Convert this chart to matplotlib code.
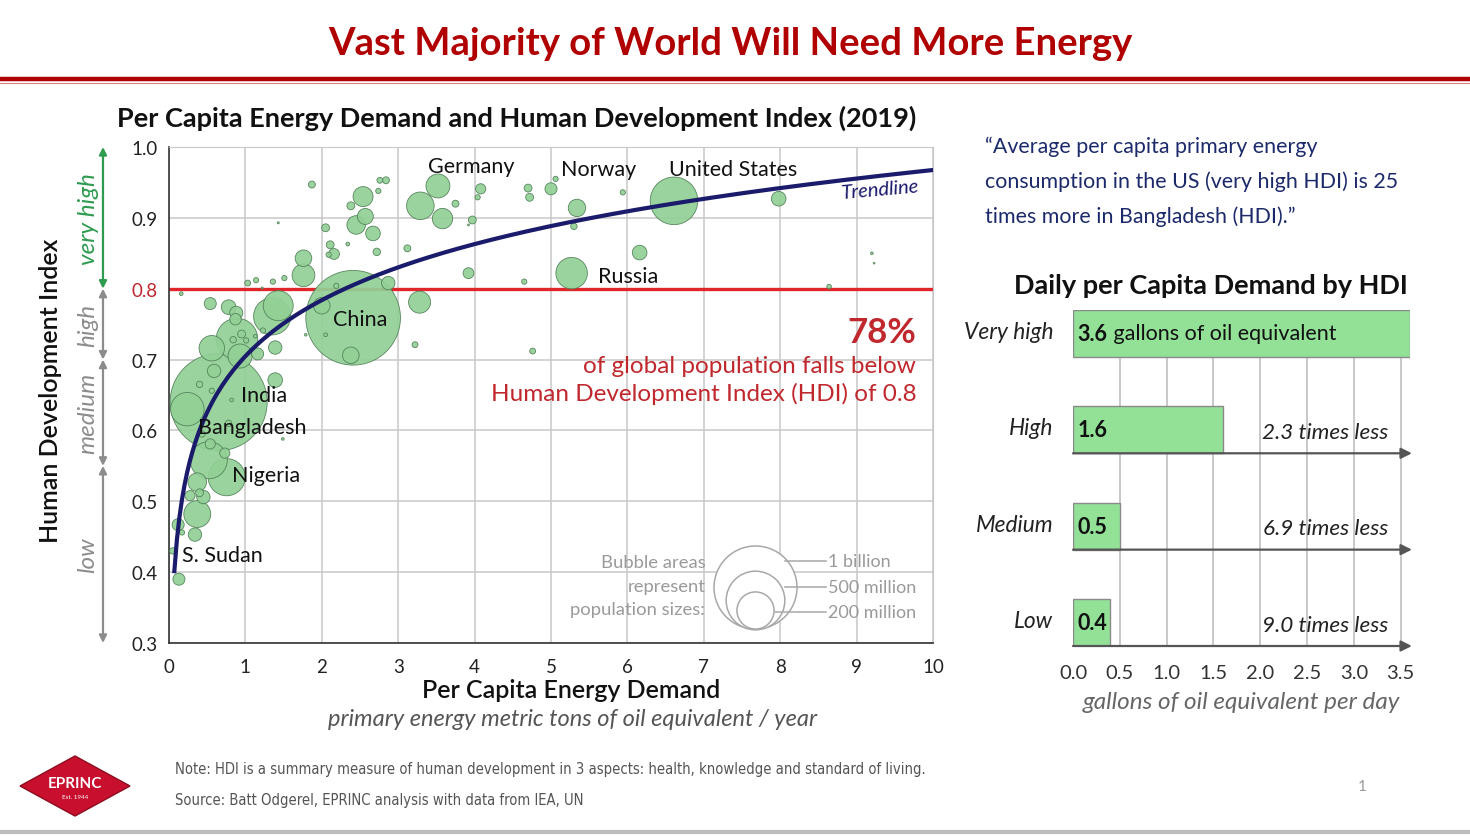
import numpy as np
import matplotlib
matplotlib.use("Agg")
import matplotlib.pyplot as plt
from matplotlib import transforms, font_manager
from matplotlib.font_manager import FontProperties
from matplotlib.patches import Polygon

plt.rcParams['font.family'] = ['Lato', 'DejaVu Sans']

# ---- scatter data: energy (toe / person / yr), HDI, population (millions)
energy = [1.87, 2.76, 2.84, 2.54, 2.74, 2.38, 2.57, 2.45, 2.67, 2.05,
          2.72, 2.11, 2.16, 2.09, 2.34, 1.43, 3.12, 3.52, 3.29, 3.58,
          3.75, 1.76, 1.76, 1.03, 1.14, 1.36, 1.51, 1.22, 0.16, 0.54,
          0.78, 0.88, 0.87, 1.43, 1.35, 2.00, 2.87, 3.28, 3.22, 2.41,
          2.38, 1.39, 0.56, 0.93, 0.89, 0.95, 0.84, 1.01, 1.16, 0.59,
          0.40, 1.39, 0.56, 0.65, 0.24, 0.82, 0.78, 1.49, 0.54, 0.52,
          0.73, 0.755, 0.37, 0.275, 0.40, 0.45, 0.37, 0.12, 0.17, 0.34,
          0.05, 0.13, 4.08, 4.04, 3.97, 3.92, 4.70, 4.72, 5.00, 5.06,
          5.34, 5.30, 4.65, 5.27, 5.94, 6.16, 6.61, 7.98, 8.64, 9.20,
          9.23, 4.76, 2.19, 2.05, 1.79, 1.23, 1.13, 0.43, 6.24, 3.92]
hdi = [0.947, 0.953, 0.953, 0.930, 0.938, 0.917, 0.902, 0.890, 0.878, 0.886,
       0.852, 0.862, 0.849, 0.848, 0.863, 0.893, 0.857, 0.945, 0.917, 0.899,
       0.920, 0.843, 0.819, 0.808, 0.812, 0.810, 0.815, 0.801, 0.793, 0.779,
       0.774, 0.766, 0.757, 0.776, 0.761, 0.776, 0.808, 0.781, 0.721, 0.759,
       0.706, 0.717, 0.716, 0.705, 0.729, 0.736, 0.728, 0.727, 0.708, 0.684,
       0.665, 0.671, 0.656, 0.640, 0.630, 0.643, 0.610, 0.588, 0.581, 0.558,
       0.568, 0.534, 0.527, 0.508, 0.512, 0.506, 0.482, 0.467, 0.456, 0.453,
       0.430, 0.390, 0.941, 0.929, 0.897, 0.822, 0.942, 0.929, 0.941, 0.955,
       0.914, 0.888, 0.810, 0.822, 0.936, 0.851, 0.924, 0.927, 0.803, 0.850,
       0.836, 0.712, 0.804, 0.735, 0.735, 0.741, 0.733, 0.595, 0.913, 0.890]
population = [7, 5, 7, 58, 4, 9, 37, 50, 31, 9,
              8, 9, 17, 4, 2, 0.6, 7, 83, 110, 60,
              7, 40, 75, 5, 4, 4, 4, 0.6, 2, 21,
              31, 25, 19, 130, 200, 40, 26, 70, 5, 1300,
              40, 26, 94, 84, 250, 9, 6, 4, 21, 26,
              6, 31, 4, 1366, 163, 2, 6, 1, 15, 200,
              15, 200, 50, 15, 9, 26, 105, 21, 4, 26,
              6, 21, 15, 4, 9, 17, 9, 9, 21, 4,
              44, 6, 4, 144, 4, 31, 329, 31, 3, 1,
              0.4, 5, 4, 2, 1, 4, 2, 6, 0.5, 0.5]

country_labels = ['Germany', 'Norway', 'United States', 'Russia', 'China',
                  'India', 'Bangladesh', 'Nigeria', 'S. Sudan']
label_x = [3.95, 5.62, 7.38, 5.62, 2.50, 0.94, 0.38, 0.82, 0.17]
label_y = [0.973, 0.969, 0.969, 0.818, 0.757, 0.650, 0.605, 0.537, 0.424]
label_ha = ['center', 'center', 'center', 'left', 'center', 'left', 'left', 'left', 'left']

# log trendline: hdi = a + b*ln(energy)
trend_a, trend_b = 0.7048, 0.1141

legend_pops = [1000, 500, 200]
legend_names = ['1 billion', '500 million', '200 million']

# ---- bar data
hdi_groups = ['Low', 'Medium', 'High', 'Very high']
daily_gallons = [0.4, 0.5, 1.6, 3.6]
times_less = ['9.0', '6.9', '2.3']

W, H = 1470, 837
DPI = 100
R_1B = 41.5   # pixel radius of a 1 billion bubble


def fx(px):
    return px / W


def fy(py):
    return 1 - py / H


def bubble_area(pop):
    # diameter in points grows with sqrt(pop)
    d_pt = 2 * R_1B * np.sqrt(np.asarray(pop) / 1000.0) * 72 / DPI
    return d_pt ** 2


fig = plt.figure(figsize=(W / DPI, H / DPI), dpi=DPI)
fig.patch.set_facecolor('white')

# ---- header
fig.text(fx(730), fy(44), 'Vast Majority of World Will Need More Energy', color='#B00000',
         fontsize=27.5, fontweight='bold', ha='center', va='center')
fig.add_artist(plt.Line2D([0, 1], [fy(80), fy(80)], color='#B00000', lw=3.2))
fig.add_artist(plt.Line2D([0, 1], [fy(83.5), fy(83.5)], color='#D98080', lw=0.8))

# ---- scatter
ax = fig.add_axes([fx(169), fy(644), fx(933) - fx(169), fy(148) - fy(644)])
ax.set_xlim(0, 10)
ax.set_ylim(0.3, 1.0)
ax.set_xticks(range(0, 11))
ax.set_yticks(np.round(np.arange(0.3, 1.01, 0.1), 1))
ax.set_yticklabels(['%.1f' % v for v in np.arange(0.3, 1.01, 0.1)])
ax.tick_params(length=0, labelsize=13.5, colors='#222222')
ax.tick_params(axis='y', pad=8)
ax.tick_params(axis='x', pad=11)
ax.get_yticklabels()[5].set_color('#C0282D')
ax.grid(True, color='#C8C8C8', lw=1.1, zorder=0)
ax.set_axisbelow(True)
for side in ['top', 'right']:
    ax.spines[side].set_color('#C8C8C8')
for side in ['left', 'bottom']:
    ax.spines[side].set_color('#333333')
    ax.spines[side].set_linewidth(1.2)

ax.axhline(0.8, color='#E0262B', lw=2.4, zorder=2)

order = np.argsort(-np.asarray(population))
ex = np.asarray(energy)[order]
hy = np.asarray(hdi)[order]
pp = np.asarray(population)[order]
ax.scatter(ex, hy, s=bubble_area(pp), c='#92D096', edgecolors='#4E7E55',
           linewidths=0.6, alpha=0.92, zorder=3)

xt = np.linspace(0.07, 10, 300)
ax.plot(xt, trend_a + trend_b * np.log(xt), color='#1B1B6B', lw=3, zorder=4)
ax.text(9.31, 0.941, 'Trendline', color='#1B1B6B', fontsize=14.5, style='italic',
        ha='center', va='center', rotation=5, zorder=5)

for name, lx, ly, ha in zip(country_labels, label_x, label_y, label_ha):
    ax.text(lx, ly, name, fontsize=15.5, ha=ha, va='center', color='#111111', zorder=6)

ax.text(9.78, 0.739, '78%', color='#C0282D', fontsize=25, fontweight='bold',
        ha='right', va='center', zorder=6)
ax.text(9.78, 0.692, 'of global population falls below', color='#C0282D',
        fontsize=17.5, ha='right', va='center', zorder=6)
ax.text(9.78, 0.653, 'Human Development Index (HDI) of 0.8', color='#C0282D',
        fontsize=17.5, ha='right', va='center', zorder=6)

# bubble size legend (circles share a common bottom)
for pop in legend_pops:
    r_pt = R_1B * np.sqrt(pop / 1000.0) * 72 / DPI
    tr = transforms.offset_copy(ax.transData, fig=fig, x=0, y=r_pt, units='points')
    ax.scatter([7.67], [0.3198], s=bubble_area(pop), facecolors='white',
               edgecolors='#A8A8A8', linewidths=1.1, transform=tr, zorder=5)
lead_y = [0.416, 0.379, 0.344]
lead_x0 = [8.06, 8.06, 7.93]
for name, yy, x0 in zip(legend_names, lead_y, lead_x0):
    ax.plot([x0, 8.6], [yy, yy], color='#A8A8A8', lw=1.1, zorder=5)
    ax.text(8.62, yy, name, color='#9A9A9A', fontsize=13, ha='left', va='center', zorder=6)
for txt, yy in zip(['Bubble areas', 'represent', 'population sizes:'], [0.414, 0.380, 0.348]):
    ax.text(7.02, yy, txt, color='#9A9A9A', fontsize=13.3, ha='right', va='center', zorder=6)

# HDI band arrows on the left
band_lo = [0.8, 0.7, 0.55, 0.3]
band_hi = [1.0, 0.8, 0.7, 0.55]
band_names = ['very high', 'high', 'medium', 'low']
band_cols = ['#2E9B4F', '#8C8C8C', '#8C8C8C', '#8C8C8C']
for lo, hi, nm, col in zip(band_lo, band_hi, band_names, band_cols):
    ax.annotate('', xy=(-0.0864, hi), xytext=(-0.0864, lo),
                xycoords=('axes fraction', 'data'), textcoords=('axes fraction', 'data'),
                arrowprops=dict(arrowstyle='<|-|>', color=col, lw=1.6,
                                mutation_scale=11, shrinkA=0, shrinkB=0),
                annotation_clip=False)
    ax.text(-0.106, (lo + hi) / 2, nm, transform=ax.get_yaxis_transform(), rotation=90,
            color=col, fontsize=17.5, style='italic', ha='center', va='center')

fig.text(fx(50), fy(391), 'Human Development Index', rotation=90, fontsize=18,
         fontweight='semibold', ha='center', va='center', color='#111111')
fig.text(fx(571), fy(691), 'Per Capita Energy Demand', fontsize=18,
         fontweight='semibold', ha='center', va='center', color='#111111')
fig.text(fx(573), fy(720), 'primary energy metric tons of oil equivalent / year',
         fontsize=17, style='italic', ha='center', va='center', color='#555555')
fig.text(fx(517), fy(118), 'Per Capita Energy Demand and Human Development Index (2019)',
         fontsize=19.5, fontweight='bold', ha='center', va='center', color='#111111')

# ---- quote
quote = ['\u201cAverage per capita primary energy',
         'consumption in the US (very high HDI) is 25',
         'times more in Bangladesh (HDI).\u201d']
for i, line in enumerate(quote):
    fig.text(fx(985), fy(147 + 35 * i), line, fontsize=15.4, color='#1C2A6B',
             ha='left', va='center')

# ---- bar chart
ax2 = fig.add_axes([fx(1073), fy(647), fx(1410) - fx(1073), fy(311) - fy(647)])
bar_h = 0.487
ypos = np.arange(len(hdi_groups))
ax2.barh(ypos, daily_gallons, height=bar_h, align='edge', color='#93E097',
         edgecolor='#8A8A8A', linewidth=1, zorder=3)
ax2.set_xlim(0, 3.6)
ax2.set_ylim(0, len(hdi_groups) - 1 + bar_h)
ax2.set_xticks(np.arange(0, 3.51, 0.5))
ax2.set_xticklabels(['%.1f' % v for v in np.arange(0, 3.51, 0.5)])
ax2.set_yticks([])
ax2.tick_params(length=0, labelsize=14.5, colors='#333333', pad=13)
for s in ax2.spines.values():
    s.set_visible(False)
for gx in np.arange(0.5, 3.51, 0.5):
    ax2.plot([gx, gx], [0, 3], color='#C8C8C8', lw=1.4, zorder=1)
for yy in ypos[:3]:
    ax2.annotate('', xy=(3.62, yy), xytext=(0, yy),
                 arrowprops=dict(arrowstyle='-|>', color='#555555', lw=1.6,
                                 mutation_scale=16, shrinkA=0, shrinkB=0),
                 annotation_clip=False, zorder=4)
for yy, grp in zip(ypos, hdi_groups):
    ax2.text(-0.21, yy + bar_h / 2 + 0.02, grp, fontsize=16.4, style='italic',
             ha='right', va='center', color='#222222')
for yy, val in zip(ypos, daily_gallons):
    t = ax2.text(0.05, yy + bar_h / 2, '%.1f' % val, fontsize=15.5, fontweight='bold',
                 ha='left', va='center', color='#111111', zorder=5)
    if val == max(daily_gallons):
        ax2.annotate(' gallons of oil equivalent', xy=(1, 0.5), xycoords=t,
                     fontsize=15.5, ha='left', va='center', color='#111111', zorder=5)
for yy, tl in zip(ypos[:3], times_less):
    ax2.text(3.37, yy + 0.22, tl + ' times less', fontsize=16.2, style='italic',
             ha='right', va='center', color='#222222', zorder=5)
ax2.set_xlabel('gallons of oil equivalent per day', fontsize=17.5, style='italic',
               color='#666666', labelpad=7)
fig.text(fx(1211), fy(286), 'Daily per Capita Demand by HDI', fontsize=19.5,
         fontweight='bold', ha='center', va='center', color='#111111')

# ---- footer
cands = [f for f in font_manager.fontManager.ttflist
         if ('Narrow' in f.name or 'Condensed' in f.name or
             f.stretch in ('condensed', 'semi-condensed', 'extra-condensed', 'ultra-condensed'))
         and f.style == 'normal' and f.weight in (400, 'normal', 'regular', 'book')]
if cands:
    note_prop = FontProperties(fname=cands[0].fname)
else:
    note_prop = FontProperties(family='DejaVu Sans')

notes = ['Note: HDI is a summary measure of human development in 3 aspects: '
         'health, knowledge and standard of living.',
         'Source: Batt Odgerel, EPRINC analysis with data from IEA, UN']
note_y = [770, 801]
note_txt = []
for line, yy in zip(notes, note_y):
    note_txt.append(fig.text(fx(175), fy(yy), line, fontproperties=note_prop, fontsize=13,
                             color='#555555', ha='left', va='center'))
renderer = fig.canvas.get_renderer()
w0 = note_txt[0].get_window_extent(renderer).width
note_size = min(14, 13 * 746.0 / w0)
for t in note_txt:
    t.set_fontsize(note_size)

fig.text(fx(1362), fy(787), '1', fontsize=11, color='#999999', ha='center', va='center')

diamond = Polygon([[fx(20), fy(787)], [fx(75), fy(757)], [fx(130), fy(787)], [fx(75), fy(817)]],
                  closed=True, transform=fig.transFigure, facecolor='#C8102E',
                  edgecolor='#8E0B1F', lw=1)
fig.add_artist(diamond)
fig.text(fx(75), fy(784), 'EPRINC', fontsize=11, fontweight='bold', color='white',
         ha='center', va='center')
fig.text(fx(75), fy(798), 'Est. 1944', fontsize=4.5, color='white', ha='center', va='center')
fig.add_artist(plt.Line2D([0, 1], [fy(833), fy(833)], color='#BDBDBD', lw=3))

fig.savefig('out.png', dpi=DPI)
